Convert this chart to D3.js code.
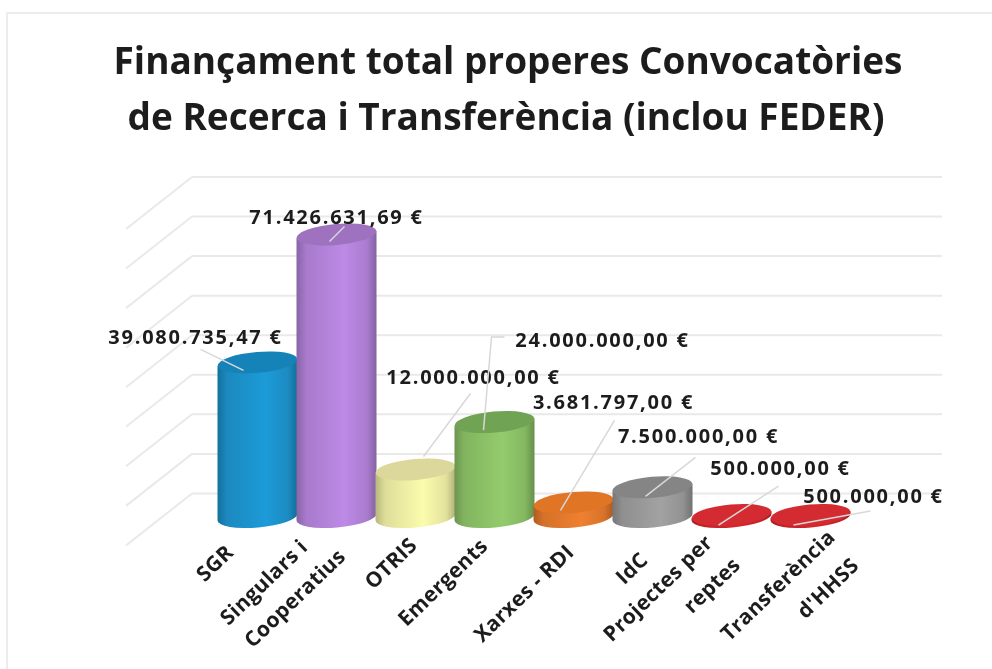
<!doctype html>
<html>
<head>
	<meta charset='utf-8'/>
	<script src="https://d3js.org/d3.v7.min.js"></script>
	<title>Finançament total</title>
	<style>
		html, body { margin: 0; padding: 0; background: #fff; }
		svg { display: block; }
		text { font-family: "Open Sans", sans-serif; fill: #1c1c1c; }
		.title { font-size: 37px; font-weight: 700; text-anchor: middle; }
		.value { font-size: 20px; font-weight: 700; text-anchor: middle; letter-spacing: 1.75px; }
		.cat { font-size: 21px; font-weight: 700; text-anchor: middle; letter-spacing: 0.3px; }
	</style>
</head>
<body>
	<div id="chart"></div>
	<script>
		var categories = ["SGR", "Singulars i|Cooperatius", "OTRIS", "Emergents", "Xarxes - RDI", "IdC", "Projectes per|reptes", "Transferència|d'HHSS"];
		var values = [39080735.47, 71426631.69, 12000000, 24000000, 3681797, 7500000, 500000, 500000];
		var valueLabels = ["39.080.735,47 €", "71.426.631,69 €", "12.000.000,00 €", "24.000.000,00 €", "3.681.797,00 €", "7.500.000,00 €", "500.000,00 €", "500.000,00 €"];
		var colours = ["#1f9bd8", "#bd8ae6", "#fcfcae", "#93cc6c", "#f08030", "#a2a2a2", "#d8262c", "#d8262c"];
		var topColours = ["#1883b8", "#9f72c0", "#dcd79a", "#6fa352", "#e07428", "#858585", "#d42a30", "#d42a30"];
		var gridTicks = d3.range(10000000, 100000000, 10000000);

		var width = 992, height = 669;

		var svg = d3.select("#chart").append("svg")
			.attr("width", width)
			.attr("height", height);

		var defs = svg.append("defs");
		defs.append("filter").attr("id", "soft")
			.append("feGaussianBlur").attr("stdDeviation", 0.6);

		// thin frame of the screenshot, top and left only
		svg.append("path").attr("d", "M7,669V13H992").attr("fill", "none").attr("stroke", "#ececec").attr("stroke-width", 2);

		var root = svg.append("g").attr("filter", "url(#soft)");

		root.append("text").attr("class", "title").attr("x", 508).attr("y", 74).text("Finançament total properes Convocatòries");
		root.append("text").attr("class", "title").attr("x", 506).attr("y", 130).text("de Recerca i Transferència (inclou FEDER)");

		// back wall scale and front scale share the same slope
		var yWall = d3.scaleLinear().domain([0, 90000000]).range([533, 177]);
		var yBar = d3.scaleLinear().domain([0, 90000000]).range([517, 161]);
		var x = d3.scaleBand().domain(categories).range([218, 850]);
		var depthX = -66, depthY = 52;

		var grid = root.append("g");
		grid.selectAll("line.back").data(gridTicks).join("line")
			.attr("class", "back")
			.attr("x1", 192).attr("x2", 942)
			.attr("y1", yWall).attr("y2", yWall)
			.attr("stroke", "#e9e9e9").attr("stroke-width", 2);
		grid.selectAll("line.side").data(gridTicks).join("line")
			.attr("class", "side")
			.attr("x1", 192).attr("x2", 192 + depthX)
			.attr("y1", yWall).attr("y2", function(d) { return yWall(d) + depthY; })
			.attr("stroke", "#e9e9e9").attr("stroke-width", 2);

		colours.forEach(function(c, i) {
			var g = defs.append("linearGradient").attr("id", "cyl" + i);
			g.append("stop").attr("offset", "0%").attr("stop-color", d3.color(c).darker(0.9));
			g.append("stop").attr("offset", "12%").attr("stop-color", d3.color(c).darker(0.35));
			g.append("stop").attr("offset", "60%").attr("stop-color", c);
			g.append("stop").attr("offset", "88%").attr("stop-color", d3.color(c).darker(0.3));
			g.append("stop").attr("offset", "100%").attr("stop-color", d3.color(c).darker(1));
		});

		var ry = 10.5, tilt = -5;
		var bars = root.selectAll("g.bar").data(categories).join("g").attr("class", "bar");

		bars.each(function(c, i) {
			var g = d3.select(this);
			var rx = x.bandwidth() / 2 + 0.5;
			var cx = x(c) + x.bandwidth() / 2;
			var y0 = yBar(0), y1 = yBar(values[i]);
			var dy = rx * Math.sin(tilt * Math.PI / 180);
			// cylinder side
			g.append("path")
				.attr("d", "M" + (cx - rx) + "," + (y1 - dy)
					+ "L" + (cx - rx) + "," + (y0 - dy)
					+ "A" + rx + "," + ry + "," + tilt + ",0,0," + (cx + rx) + "," + (y0 + dy)
					+ "L" + (cx + rx) + "," + (y1 + dy) + "Z")
				.attr("fill", "url(#cyl" + i + ")");
			g.append("ellipse")
				.attr("rx", rx).attr("ry", ry)
				.attr("transform", "translate(" + cx + "," + y1 + ") rotate(" + tilt + ")")
				.attr("fill", topColours[i]);
		});

		// value labels sit at an offset from the top of their cylinder, with a leader line
		var labelOffset = [[-62, -26], [0, -18], [58, -93], [108, -82], [40, -101], [46, -52], [49, -47], [63, -19]];
		var leaderStart = [[-14, 8], [-7, 7], [8, -13], [-11, 8], [-13, 8], [-7, 9], [-13, 10], [-17, 10]];
		var leaderEnd = [[-57, -13], [8, -8], [55, -76], [-3, -85], [41, -82], [43, -30], [47, -29], [60, -4]];

		categories.forEach(function(c, i) {
			var cx = x(c) + x.bandwidth() / 2, top = yBar(values[i]);
			var pts = [[cx + leaderStart[i][0], top + leaderStart[i][1]], [cx + leaderEnd[i][0], top + leaderEnd[i][1]]];
			if (i == 3) pts.push([cx + 10, top + leaderEnd[i][1]]);
			root.append("path")
				.attr("d", d3.line()(pts))
				.attr("fill", "none")
				.attr("stroke", "#d8d8d8")
				.attr("stroke-width", 1.5);
			root.append("text").attr("class", "value")
				.attr("x", cx + labelOffset[i][0])
				.attr("y", top + labelOffset[i][1])
				.attr("dy", "0.36em")
				.text(valueLabels[i]);
		});

		// category labels, rotated; one offset per text line, from the foot of the cylinder
		var catOffset = [[[-43, 46]], [[-73, 65], [-42, 81]], [[-25, 46]], [[-52, 65]], [[-50, 76]], [[-21, 51]], [[-74, 71], [-20, 68]], [[-33, 68], [17, 71]]];
		categories.forEach(function(c, i) {
			var cx = x(c) + x.bandwidth() / 2;
			c.split("|").forEach(function(line, j) {
				var px = cx + catOffset[i][j][0], py = yBar(0) + catOffset[i][j][1];
				root.append("text").attr("class", "cat")
					.attr("transform", "translate(" + px + "," + py + ") rotate(-44)")
					.attr("dy", "0.36em")
					.text(line);
			});
		});
	</script>
</body>
</html>
